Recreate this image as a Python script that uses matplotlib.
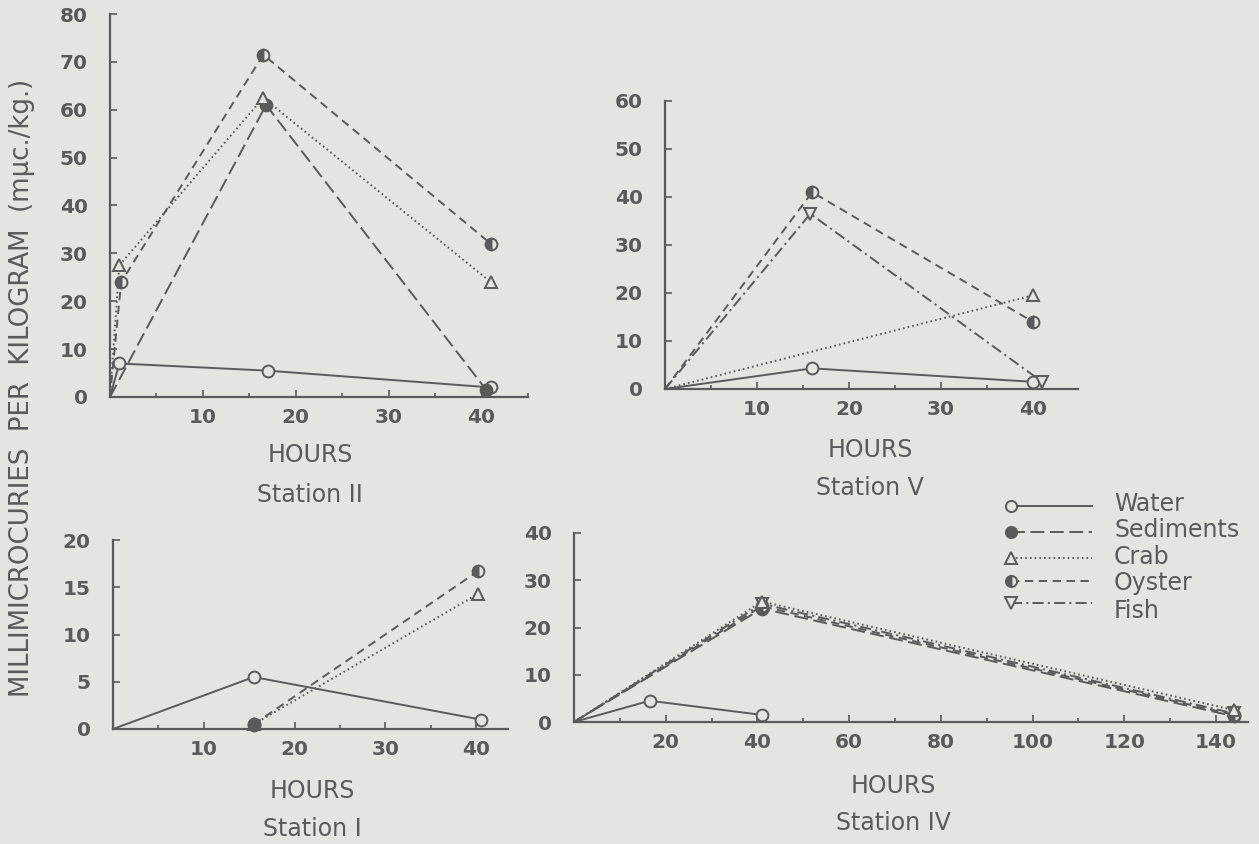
import matplotlib.pyplot as plt
from matplotlib.ticker import MultipleLocator

W, H = 1259, 844
BG = '#e4e4e1'
INK = '#5a5a5a'

plt.rcParams['font.family'] = ['DejaVu Sans']
plt.rcParams['lines.scale_dashes'] = False

# ---- data (hours, mμc./kg.) ----
# Station II
st2_water_h = [0, 1, 17, 41]
st2_water_v = [0, 7, 5.5, 2]
st2_sed_h = [0, 16.8, 40.5]
st2_sed_v = [0, 61, 1.5]
st2_crab_h = [0, 1, 16.5, 41]
st2_crab_v = [0, 27.5, 62.5, 24]
st2_oyster_h = [0, 1.2, 16.5, 41]
st2_oyster_v = [0, 24, 71.5, 32]

# Station V
st5_water_h = [0, 16, 40]
st5_water_v = [0, 4.3, 1.5]
st5_crab_h = [0, 40]
st5_crab_v = [0, 19.5]
st5_oyster_h = [0, 16, 40]
st5_oyster_v = [0, 41, 14]
st5_fish_h = [0, 15.8, 41]
st5_fish_v = [0, 36.5, 1.5]

# Station I
st1_water_h = [0, 15.5, 40.5]
st1_water_v = [0, 5.5, 1]
st1_sed_h = [15.5]
st1_sed_v = [0.4]
st1_crab_h = [15.5, 40.2]
st1_crab_v = [0.5, 14.3]
st1_oyster_h = [15.5, 40.2]
st1_oyster_v = [0.5, 16.7]

# Station IV
st4_water_h = [0, 16.5, 41]
st4_water_v = [0, 4.5, 1.5]
st4_sed_h = [0, 41, 144]
st4_sed_v = [0, 24, 1.2]
st4_crab_h = [0, 41, 144]
st4_crab_v = [0, 25.5, 2.5]
st4_oyster_h = [0, 41, 144]
st4_oyster_v = [0, 24.5, 1.5]
st4_fish_h = [0, 41, 144]
st4_fish_v = [0, 25, 1.8]

species = ['Water', 'Sediments', 'Crab', 'Oyster', 'Fish']

STYLE = {
    'Water': dict(marker='o', linestyle='-', markerfacecolor=BG),
    'Sediments': dict(marker='o', dashes=(10, 4), markerfacecolor=INK),
    'Crab': dict(marker='^', dashes=(1.2, 2.2), markerfacecolor=BG),
    'Oyster': dict(marker='o', dashes=(6, 4), markerfacecolor=INK,
                   fillstyle='left', markerfacecoloralt=BG),
    'Fish': dict(marker='v', dashes=(8, 3, 1.5, 3), markerfacecolor=BG),
}

fig = plt.figure(figsize=(W / 100, H / 100), dpi=100, facecolor=BG)


def make_axes(x0, y0, x1, y1, xmax, ymax, xmaj, xmin, ymaj):
    # x0,y0 = pixel of data origin; x1 = pixel of xmax; y1 = pixel of ymax
    ax = fig.add_axes([x0 / W, (H - y0) / H, (x1 - x0) / W, (y0 - y1) / H])
    ax.set_facecolor('none')
    ax.set_xlim(0, xmax)
    ax.set_ylim(0, ymax)
    for s in ['top', 'right']:
        ax.spines[s].set_visible(False)
    for s in ['left', 'bottom']:
        ax.spines[s].set_color(INK)
        ax.spines[s].set_linewidth(1.6)
    ax.xaxis.set_major_locator(MultipleLocator(xmaj))
    ax.xaxis.set_minor_locator(MultipleLocator(xmin))
    ax.yaxis.set_major_locator(MultipleLocator(ymaj))
    ax.tick_params(which='both', direction='in', colors=INK, width=1.2,
                   labelsize=14.5)
    ax.tick_params(which='major', length=5)
    ax.tick_params(which='minor', length=3)
    ax.tick_params(axis='y', pad=16)
    ax.tick_params(axis='x', pad=8)
    ax.set_xticks([t for t in ax.get_xticks() if 0 < t <= xmax])
    ax.set_yticks([t for t in ax.get_yticks() if 0 <= t <= ymax])
    for lab in ax.get_xticklabels() + ax.get_yticklabels():
        lab.set_fontweight('bold')
    return ax


def draw(ax, name, h, v):
    st = STYLE[name]
    mev = slice(1, None) if (h[0] == 0 and v[0] == 0 and len(h) > 1) else None
    ax.plot(h, v, color=INK, lw=1.4, markersize=8.5, markeredgewidth=1.4,
            markeredgecolor=INK, markevery=mev, clip_on=False, **st)


# Station II
ax2 = make_axes(110, 397, 528, 14, 45, 80, 10, 5, 10)
draw(ax2, 'Water', st2_water_h, st2_water_v)
draw(ax2, 'Sediments', st2_sed_h, st2_sed_v)
draw(ax2, 'Crab', st2_crab_h, st2_crab_v)
draw(ax2, 'Oyster', st2_oyster_h, st2_oyster_v)

# Station V
ax5 = make_axes(665, 389, 1078, 101, 44.9, 60, 10, 5, 10)
draw(ax5, 'Water', st5_water_h, st5_water_v)
draw(ax5, 'Crab', st5_crab_h, st5_crab_v)
draw(ax5, 'Oyster', st5_oyster_h, st5_oyster_v)
draw(ax5, 'Fish', st5_fish_h, st5_fish_v)

# Station I
ax1 = make_axes(113, 729, 508, 540, 43.5, 20, 10, 5, 5)
draw(ax1, 'Water', st1_water_h, st1_water_v)
draw(ax1, 'Crab', st1_crab_h, st1_crab_v)
draw(ax1, 'Oyster', st1_oyster_h, st1_oyster_v)
draw(ax1, 'Sediments', st1_sed_h, st1_sed_v)

# Station IV
ax4 = make_axes(574, 722, 1248, 533, 147, 40, 20, 10, 10)
draw(ax4, 'Water', st4_water_h, st4_water_v)
draw(ax4, 'Sediments', st4_sed_h, st4_sed_v)
draw(ax4, 'Fish', st4_fish_h, st4_fish_v)
draw(ax4, 'Oyster', st4_oyster_h, st4_oyster_v)
draw(ax4, 'Crab', st4_crab_h, st4_crab_v)

# axis captions
txt = dict(color=INK, ha='center', va='center', fontsize=17)
for cx, hy, sy, station in [(310, 455, 495, 'Station II'),
                            (870, 450, 488, 'Station V'),
                            (312, 791, 829, 'Station I'),
                            (893, 786, 823, 'Station IV')]:
    fig.text(cx / W, 1 - hy / H, 'HOURS', **txt)
    fig.text(cx / W, 1 - sy / H, station, **txt)

fig.text(22 / W, 1 - 388 / H, 'MILLIMICROCURIES  PER  KILOGRAM  (mμc./kg.)',
         rotation=90, color=INK, ha='center', va='center', fontsize=18.7)

# legend, drawn by hand (marker sits at the left end of each sample line)
leg = fig.add_axes([995 / W, 1 - 625 / H, 260 / W, 130 / H])
leg.set_xlim(995, 1255)
leg.set_ylim(625, 495)
leg.axis('off')
line_rows = [506, 532, 558, 581, 603]
text_rows = [504, 530, 557, 583, 611]
for name, ly, ty in zip(species, line_rows, text_rows):
    st = STYLE[name]
    leg.plot([1011, 1092], [ly, ly], color=INK, lw=1.4, markersize=8,
             markeredgewidth=1.4, markeredgecolor=INK, markevery=[0],
             clip_on=False, **st)
    leg.text(1114, ty, name, color=INK, fontsize=17, va='center', ha='left')

fig.savefig('out.png', dpi=100, facecolor=BG)
